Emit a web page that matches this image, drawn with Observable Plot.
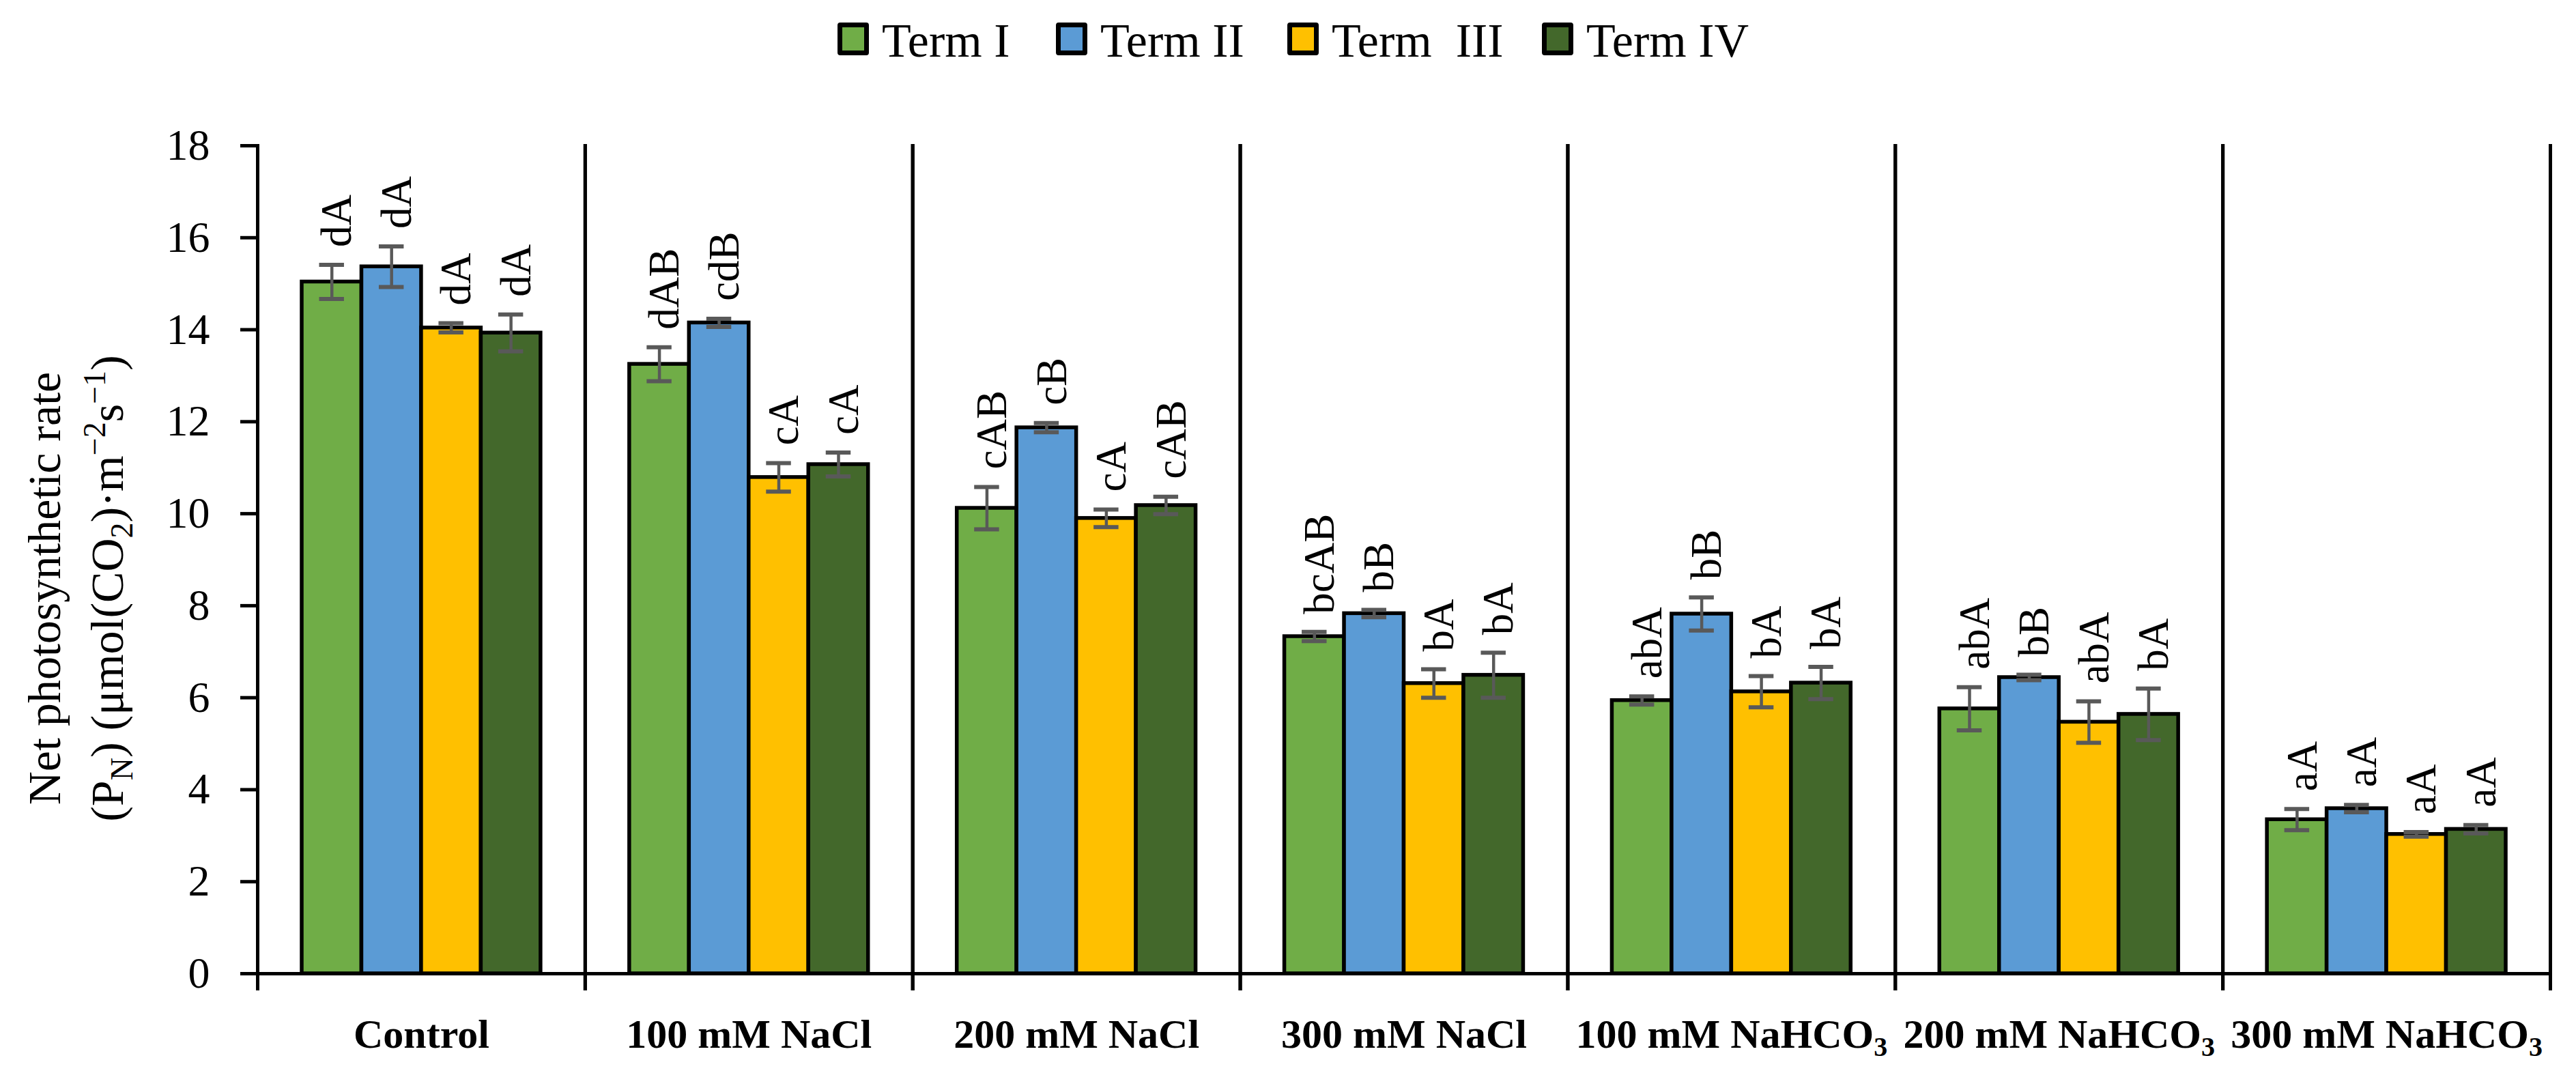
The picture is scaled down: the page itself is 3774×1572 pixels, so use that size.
<!DOCTYPE html>
<html>
<head>
<meta charset="utf-8">
<script src="https://cdn.jsdelivr.net/npm/d3@7"></script>
<script src="https://cdn.jsdelivr.net/npm/@observablehq/plot@0.6"></script>
<style>
  html, body { margin: 0; padding: 0; background: white; }
  body { width: 3774px; height: 1572px; position: relative; overflow: hidden; font-family: 'Liberation Serif', serif; }
  #legend { position: absolute; left: 0; top: 0; width: 3774px; height: 110px; }
  .item { position: absolute; top: 33px; height: 48px; display: flex; align-items: center; }
  .sw { width: 32px; height: 34px; border: 7px solid black; border-radius: 4px; }
  .lab { font-size: 70px; line-height: 48px; margin-left: 19px; color: black; white-space: pre; position: relative; top: 3px; }
  #chart { position: absolute; left: 0; top: 110px; }
</style>
</head>
<body>
<div id="legend"></div>
<div id="chart"></div>
<script>
const categories = ["Control", "100 mM NaCl", "200 mM NaCl", "300 mM NaCl", "100 mM NaHCO₃", "200 mM NaHCO₃", "300 mM NaHCO₃"];
const terms = ["Term I", "Term II", "Term III", "Term IV"];
const termLegend = ["Term I", "Term II", "Term  III", "Term IV"];
const colors = ["#70AD47", "#5B9BD5", "#FFC000", "#43682B"];

const termI   = [15.04, 13.25, 10.12, 7.33, 5.94, 5.76, 3.35];
const termII  = [15.37, 14.15, 11.87, 7.83, 7.82, 6.44, 3.59];
const termIII = [14.04, 10.79, 9.90, 6.31, 6.13, 5.47, 3.03];
const termIV  = [13.93, 11.07, 10.18, 6.49, 6.32, 5.64, 3.14];

const errI   = [0.37, 0.37, 0.46, 0.10, 0.09, 0.47, 0.23];
const errII  = [0.44, 0.09, 0.10, 0.08, 0.36, 0.06, 0.08];
const errIII = [0.10, 0.31, 0.19, 0.31, 0.34, 0.45, 0.05];
const errIV  = [0.40, 0.26, 0.19, 0.49, 0.35, 0.56, 0.09];

const letI   = ["dA", "dAB", "cAB", "bcAB", "abA", "abA", "aA"];
const letII  = ["dA", "cdB", "cB", "bB", "bB", "bB", "aA"];
const letIII = ["dA", "cA", "cA", "bA", "bA", "abA", "aA"];
const letIV  = ["dA", "cA", "cAB", "bA", "bA", "bA", "aA"];

const yTicks = [0, 2, 4, 6, 8, 10, 12, 14, 16, 18];

const series = [termI, termII, termIII, termIV];
const errs = [errI, errII, errIII, errIV];
const lets = [letI, letII, letIII, letIV];

const data = [];
categories.forEach((c, i) => {
  terms.forEach((t, j) => {
    data.push({cat: c, term: t, v: series[j][i], e: errs[j][i], label: lets[j][i]});
  });
});

// Legend
const legendLefts = [1227, 1547, 1886, 2259];
const legend = document.getElementById("legend");
terms.forEach((t, j) => {
  const it = document.createElement("div");
  it.className = "item";
  it.style.left = legendLefts[j] + "px";
  const sw = document.createElement("div");
  sw.className = "sw";
  sw.style.background = colors[j];
  const lb = document.createElement("span");
  lb.className = "lab";
  lb.textContent = termLegend[j];
  it.appendChild(sw);
  it.appendChild(lb);
  legend.appendChild(it);
});

const chart = Plot.plot({
  width: 3774,
  height: 1462,
  marginTop: 103,
  marginBottom: 146,
  marginLeft: 377,
  marginRight: 38,
  style: {fontFamily: "'Liberation Serif', serif", fontSize: "64px", background: "white", color: "black", overflow: "visible"},
  fx: {domain: categories, padding: 0, round: false, label: null},
  x: {domain: terms, paddingInner: 0, paddingOuter: 0.743, round: false, axis: null},
  y: {domain: [0, 18], label: null},
  color: {domain: terms, range: colors},
  marks: [
    Plot.barY(data, {fx: "cat", x: "term", y: "v", fill: "term", stroke: "black", strokeWidth: 5.5}),
    Plot.ruleX(data, {fx: "cat", x: "term", y1: d => d.v - d.e, y2: d => d.v + d.e, stroke: "#595959", strokeWidth: 4.5}),
    Plot.tickY(data, {fx: "cat", x: "term", y: d => d.v - d.e, stroke: "#595959", strokeWidth: 6, insetLeft: 25.5, insetRight: 25.5}),
    Plot.tickY(data, {fx: "cat", x: "term", y: d => d.v + d.e, stroke: "#595959", strokeWidth: 6, insetLeft: 25.5, insetRight: 25.5}),
    Plot.ruleY([0], {stroke: "black", strokeWidth: 5}),
    Plot.frame({anchor: "left", stroke: "black", strokeWidth: 5, insetBottom: -22}),
    Plot.frame({anchor: "right", stroke: "black", strokeWidth: 5, insetBottom: -22}),
    Plot.text(data, {fx: "cat", x: "term", y: d => d.v + d.e, text: "label", rotate: -90, textAnchor: "start", dy: -26, dx: 8, fontSize: 63, fill: "black"}),
    Plot.axisY({ticks: yTicks, tickSize: 25, tickPadding: 45, strokeWidth: 5, fontSize: 64, label: null, tickFormat: d => String(d)}),
    Plot.axisFx({anchor: "bottom", tickSize: 0, tickPadding: 66, fontSize: 60, fontWeight: "bold", label: null})
  ]
});

document.getElementById("chart").appendChild(chart);

// subscripts in category labels
d3.select(chart).selectAll("text").each(function() {
  const el = d3.select(this);
  const tspans = el.selectAll("tspan");
  const txt = this.textContent;
  if (txt.includes("₃") && tspans.empty()) {
    const base = txt.replace("₃", "");
    el.text(null);
    el.append("tspan").text(base);
    el.append("tspan").attr("dy", 12).attr("font-size", 40).text("3");
  } else if (txt.includes("₃")) {
    tspans.each(function() {
      const ts = d3.select(this);
      const t = this.textContent;
      if (t.includes("₃")) {
        ts.text(t.replace("₃", ""));
        d3.select(this.parentNode).insert("tspan", () => this.nextSibling).attr("dy", 12).attr("font-size", 40).text("3");
      }
    });
  }
});

// y axis title (two lines)
const svg = d3.select(chart);
const g = svg.append("g")
  .attr("font-family", "'Liberation Serif', serif")
  .attr("font-size", 68)
  .attr("fill", "black")
  .attr("text-anchor", "middle");
g.append("text").attr("transform", "translate(88,752) rotate(-90)").text("Net photosynthetic rate");
const t2 = g.append("text").attr("transform", "translate(180,752) rotate(-90)");
t2.append("tspan").text("(P");
t2.append("tspan").attr("font-size", 46).attr("dy", 14).text("N");
t2.append("tspan").attr("dy", -14).text(") (μmol(CO");
t2.append("tspan").attr("font-size", 46).attr("dy", 14).text("2");
t2.append("tspan").attr("dy", -14).text(")·m");
t2.append("tspan").attr("font-size", 46).attr("dy", -26).text("−2");
t2.append("tspan").attr("dy", 26).text("s");
t2.append("tspan").attr("font-size", 46).attr("dy", -26).text("−1");
t2.append("tspan").attr("dy", 26).text(")");
</script>
</body>
</html>
